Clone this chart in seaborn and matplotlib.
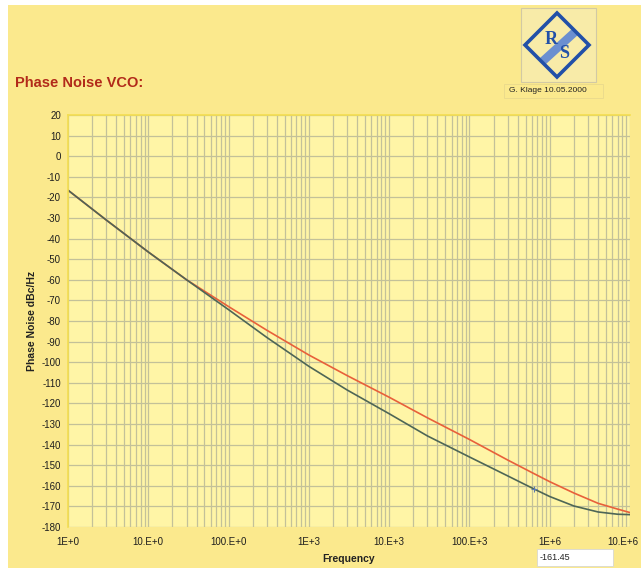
import matplotlib
matplotlib.use("Agg")
import matplotlib.pyplot as plt
from matplotlib.patches import Rectangle, Polygon
from matplotlib.ticker import FixedLocator, FixedFormatter, LogLocator, NullFormatter
import matplotlib.transforms as mtransforms
import numpy as np
import pandas as pd
import seaborn as sns

# ---- data -------------------------------------------------------------
freq_hz = [1, 3, 10, 30, 100, 300, 1e3, 3e3, 1e4, 3e4, 1e5, 3e5, 6.3e5,
           1e6, 2e6, 4e6, 7e6, 1e7]
noise_upper = [-16.5, -31.0, -46.5, -60.0, -73.0, -84.5, -96.5, -106.5,
               -117.0, -127.0, -137.5, -147.5, -154.0, -158.0, -163.5,
               -168.5, -171.3, -173.0]
noise_lower = [-16.5, -31.0, -46.5, -60.0, -74.5, -88.0, -102.0, -113.5,
               -125.0, -135.8, -146.0, -155.2, -161.45, -165.2, -169.8,
               -172.7, -173.8, -174.0]
cursor_freq = 6.3e5
cursor_value = -161.45

x_ticks = [1, 10, 100, 1e3, 1e4, 1e5, 1e6, 1e7]
x_tick_labels = ["1E+0", "10.E+0", "100.E+0", "1E+3", "10.E+3",
                 "100.E+3", "1E+6", "10.E+6"]
y_ticks = list(range(-180, 21, 10))
y_tick_labels = [str(v) for v in y_ticks]

series_names = ["upper", "lower"]
series_colors = {"upper": "#E8603A", "lower": "#4E6656"}

df = pd.concat([
    pd.DataFrame({"freq": freq_hz, "noise": noise_upper, "trace": "upper"}),
    pd.DataFrame({"freq": freq_hz, "noise": noise_lower, "trace": "lower"}),
])

# ---- style --------------------------------------------------------------
sns.set_style("white")
plt.rcParams["font.family"] = ["Liberation Sans", "DejaVu Sans"]

W, H = 641, 571
fig = plt.figure(figsize=(W / 100, H / 100), dpi=100, facecolor="white")

# yellow panel behind everything
fig.patches.append(Rectangle((8 / W, 3 / H), 1 - 8 / W, (H - 8) / H,
                             transform=fig.transFigure, facecolor="#FBE98D",
                             edgecolor="none", zorder=-10))

L, R_, T, B = 68, 630, 115, 527
ax = fig.add_axes([L / W, 1 - B / H, (R_ - L) / W, (B - T) / H])
ax.set_facecolor("#FFF5A6")

sns.lineplot(data=df, x="freq", y="noise", hue="trace", hue_order=series_names,
             palette=series_colors, linewidth=1.2, legend=False, ax=ax,
             sort=False, estimator=None)
ax.plot([cursor_freq], [cursor_value], marker="+", color="#5A7AB0",
        markersize=5, mew=0.8, zorder=5)

ax.set_xscale("log")
ax.set_xlim(1, 1e7)
ax.set_ylim(-180, 20)

ax.xaxis.set_major_locator(FixedLocator(x_ticks))
ax.xaxis.set_major_formatter(FixedFormatter(x_tick_labels))
ax.xaxis.set_minor_locator(LogLocator(base=10, subs=np.arange(2, 10)))
ax.xaxis.set_minor_formatter(NullFormatter())
ax.yaxis.set_major_locator(FixedLocator(y_ticks))
ax.yaxis.set_major_formatter(FixedFormatter(y_tick_labels))

grid_c = "#C3C199"
ax.grid(which="major", axis="both", color=grid_c, linewidth=0.9)
ax.grid(which="minor", axis="x", color=grid_c, linewidth=0.9)
ax.set_axisbelow(True)

ax.tick_params(axis="y", which="major", direction="out", length=3,
               width=0.8, color="#444444", pad=2, labelsize=7,
               labelcolor="#1E1E1E")
ax.tick_params(axis="x", which="major", direction="out", length=3,
               width=0.8, color="#777777", pad=4, labelsize=7,
               labelcolor="#1E1E1E")
ax.tick_params(axis="x", which="minor", length=0)

# keep the last frequency label inside the figure edge
last_lbl = ax.get_xticklabels()[-1]
last_lbl.set_transform(last_lbl.get_transform() +
                       mtransforms.ScaledTranslation(-7 / 100, 0,
                                                     fig.dpi_scale_trans))

for side in ["right", "bottom"]:
    ax.spines[side].set_visible(False)
for side in ["top", "left"]:
    ax.spines[side].set_color("#F4DE50")
    ax.spines[side].set_linewidth(1.2)

ax.set_xlabel("Frequency", fontsize=7.5, fontweight="bold", color="#222222",
              labelpad=5)
ax.set_ylabel("Phase Noise dBc/Hz", fontsize=7.5, fontweight="bold",
              color="#222222", labelpad=3)

# ---- header, logo and readout (pixel-coordinate overlay) -----------------
ov = fig.add_axes([0, 0, 1, 1], zorder=3)
ov.set_xlim(0, W)
ov.set_ylim(H, 0)
ov.axis("off")
ov.patch.set_visible(False)

ov.text(15, 87, "Phase Noise VCO:", fontsize=10.5, fontweight="bold",
        color="#B22A1A", ha="left", va="baseline")

ov.add_patch(Rectangle((521, 8), 75, 74, facecolor="#F8EBA8",
                       edgecolor="#D2C9A4", linewidth=0.8))
blue = "#2250A8"
ov.add_patch(Polygon([(573, 28), (579, 34), (546, 64), (540, 58)],
                     closed=True, facecolor="#6B8FD0", edgecolor="none"))
ov.add_patch(Polygon([(557, 13), (589, 45), (557, 77), (525, 45)],
                     closed=True, fill=False, edgecolor=blue, linewidth=2.6,
                     joinstyle="miter"))
ov.text(551, 39, "R", fontsize=13, color=blue, ha="center", va="center",
        fontweight="bold", family=["Liberation Serif", "DejaVu Serif"])
ov.text(564, 54, "S", fontsize=13, color=blue, ha="center", va="center",
        fontweight="bold", family=["Liberation Serif", "DejaVu Serif"])

ov.add_patch(Rectangle((504, 84), 99, 14, facecolor="none",
                       edgecolor="#EBDB8C", linewidth=0.7))
ov.text(548, 91, "G. Klage 10.05.2000", fontsize=6, color="#222222",
        ha="center", va="center")

ov.add_patch(Rectangle((537, 549), 76, 17, facecolor="white",
                       edgecolor="#D8D8D0", linewidth=0.6))
ov.text(540, 557.5, f"{cursor_value:.2f}", fontsize=6.5, color="#222222",
        ha="left", va="center")

fig.savefig("out.png", dpi=100, facecolor=fig.get_facecolor())
